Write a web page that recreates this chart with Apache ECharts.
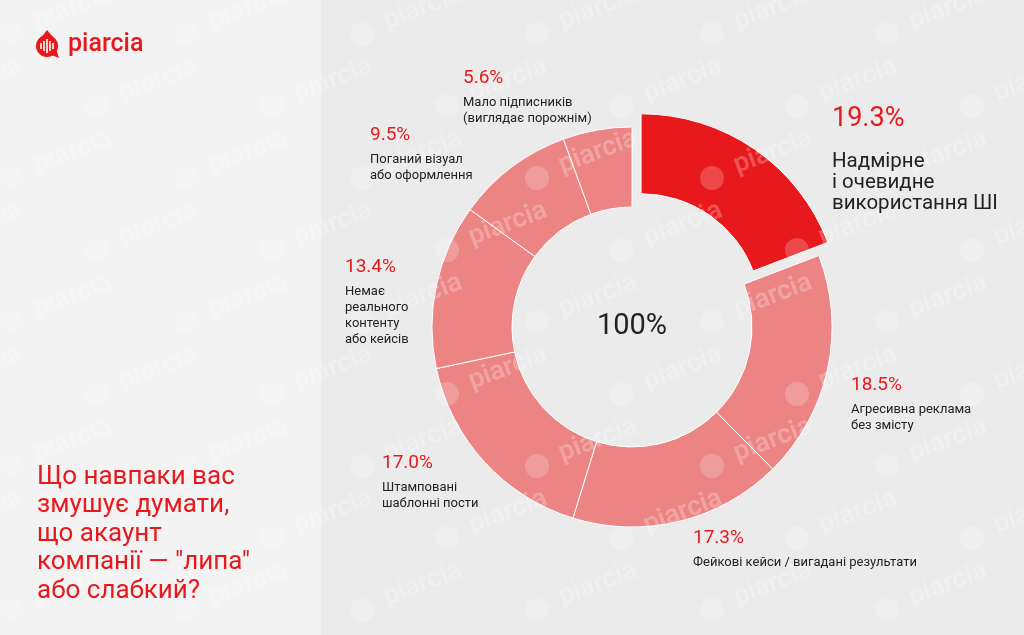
<!DOCTYPE html>
<html><head><meta charset="utf-8">
<script src="https://cdn.jsdelivr.net/npm/echarts@6/dist/echarts.min.js"></script>
<style>html,body{margin:0;padding:0;background:#ebebeb;}#c{width:1024px;height:635px;}</style>
</head><body><div id="c"></div>
<script>
// ---- data ----
const categories = [
  'Надмірне і очевидне використання ШІ',
  'Агресивна реклама без змісту',
  'Фейкові кейси / вигадані результати',
  'Штамповані шаблонні пости',
  'Немає реального контенту або кейсів',
  'Поганий візуал або оформлення',
  'Мало підписників (виглядає порожнім)'
];
const values = [19.3, 18.5, 17.3, 17.0, 13.4, 9.5, 5.6];
const labelLines = [
  ['Надмірне', 'і очевидне', 'використання ШІ'],
  ['Агресивна реклама', 'без змісту'],
  ['Фейкові кейси / вигадані результати'],
  ['Штамповані', 'шаблонні пости'],
  ['Немає', 'реального', 'контенту', 'або кейсів'],
  ['Поганий візуал', 'або оформлення'],
  ['Мало підписників', '(виглядає порожнім)']
];
const centerLabel = '100%';
const titleLines = ['Що навпаки вас', 'змушує думати,', 'що акаунт', 'компанії — "липа"', 'або слабкий?'];
const brand = 'piarcia';

// ---- styles / layout ----
const RED = '#E8191C';
const LIGHT = '#EC8484';
const DARK = '#222222';
const FONT = 'Roboto, "Noto Sans", sans-serif';
const labelPos = [[832, 88], [851, 368], [693, 521], [382, 446], [345, 250], [370, 118], [463, 61]];

const chart = echarts.init(document.getElementById('c'), null, {renderer: 'canvas'});

const watermarks = [];
for (let r = -1; r < 10; r++) {
  for (let c = -1; c < 8; c++) {
    const x = c * 175 + (r % 2 ? 85 : 0);
    const y = r * 72 + 10;
    watermarks.push({
      type: 'text', x: x + 30, y: y, rotation: 0.36, z: 50, silent: true,
      style: {text: brand, fill: 'rgba(255,255,255,0.25)', font: '600 27px ' + FONT}
    });
    watermarks.push({
      type: 'circle', x: x + 12, y: y + 24, shape: {cx: 0, cy: 0, r: 12}, z: 50, silent: true,
      style: {fill: 'rgba(255,255,255,0.2)'}
    });
  }
}

const richStyles = {
  p: {fontSize: 19, fill: RED, lineHeight: 34, fontFamily: FONT},
  t: {fontSize: 13, fill: DARK, lineHeight: 16, fontFamily: FONT},
  P: {fontSize: 27, fill: RED, lineHeight: 63, fontFamily: FONT},
  T: {fontSize: 20.5, fill: DARK, lineHeight: 21, fontFamily: FONT}
};

const labelGraphics = values.map((v, i) => {
  const main = i === 0;
  const txt = main
    ? '{P|' + v.toFixed(1) + '%}\n' + labelLines[i].map(s => '{T|' + s + '}').join('\n')
    : '{p|' + v.toFixed(1) + '%}\n' + labelLines[i].map(s => '{t|' + s + '}').join('\n');
  return {
    type: 'text', x: labelPos[i][0], y: labelPos[i][1], z: 60,
    style: {text: txt, rich: richStyles, align: 'left', verticalAlign: 'top', fontFamily: FONT}
  };
});

const logoBars = [[-6, 3], [-3, 5], [0, 7], [3, 5], [6, 3]].map(b => ({
  type: 'rect', z: 61, shape: {x: 47 + b[0] - 0.8, y: 46 - b[1], width: 1.6, height: b[1] * 2},
  style: {fill: '#ffffff'}
}));

const data = values.map((v, i) => {
  const main = i === 0;
  const col = main ? RED : LIGHT;
  return {
    name: categories[i], value: v, selected: main,
    itemStyle: {color: col},
    select: {itemStyle: {color: col, borderColor: '#fff', borderWidth: 1}}
  };
});

chart.setOption({
  animation: false,
  backgroundColor: '#ebebeb',
  graphic: [
    {type: 'rect', shape: {x: 0, y: 0, width: 321, height: 635}, style: {fill: '#f3f3f3'}, z: -10, silent: true},
    ...watermarks,
    {type: 'circle', shape: {cx: 47, cy: 46, r: 11}, style: {fill: RED}, z: 60},
    {type: 'polygon', shape: {points: [[40, 39], [47, 30], [53, 37]]}, style: {fill: RED}, z: 60},
    {type: 'polygon', shape: {points: [[49, 54], [59, 58], [56, 49]]}, style: {fill: RED}, z: 60},
    ...logoBars,
    {type: 'text', x: 68, y: 32, z: 60, style: {text: brand, fill: RED, font: '500 25px ' + FONT}},
    {type: 'text', x: 37, y: 463, z: 60, style: {text: titleLines.join('\n'), fill: RED, font: '400 26px ' + FONT, lineHeight: 28.5}},
    {type: 'text', x: 632, y: 327, z: 60, style: {text: centerLabel, fill: DARK, font: '400 29px ' + FONT, align: 'center', verticalAlign: 'middle'}},
    ...labelGraphics
  ],
  series: [{
    type: 'pie',
    center: [632, 327],
    radius: [120, 200],
    startAngle: 90,
    clockwise: true,
    selectedMode: 'single',
    selectedOffset: 16,
    avoidLabelOverlap: false,
    emphasis: {disabled: true},
    itemStyle: {borderColor: '#ffffff', borderWidth: 1},
    label: {show: false},
    labelLine: {show: false},
    data: data
  }]
});
</script></body></html>
